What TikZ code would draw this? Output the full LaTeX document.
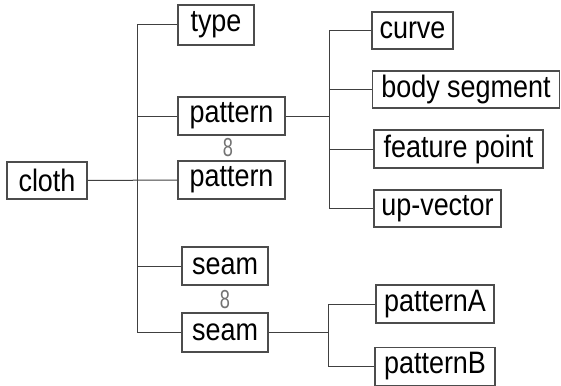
\documentclass[tikz,border=0pt]{standalone}
\usepackage{fontspec}
\setmainfont{Liberation Sans}
\newcommand{\bx}[1]{\scalebox{0.87}[1]{#1}}
\begin{document}
\begin{tikzpicture}[x=1pt,y=-1pt,
  box/.style={draw=black!70,line width=1.1pt,inner sep=0pt,font=\fontsize{31}{31}\selectfont,text=black},
  conn/.style={draw=black!75,line width=1pt},
  link/.style={inner sep=0pt,text=black!55,font=\fontsize{26}{26}\selectfont}]
\useasboundingbox (0,0) rectangle (561,385);
\node[box,minimum width=80pt,minimum height=37pt] (cloth) at (47,180.5) {\bx{cloth}};
\node[box,minimum width=76pt,minimum height=40pt] (type) at (216,25) {\bx{type}};
\node[box,minimum width=107pt,minimum height=38pt] (pat1) at (231.5,116) {\bx{pattern}};
\node[box,minimum width=107pt,minimum height=38pt] (pat2) at (231.5,180) {\bx{pattern}};
\node[box,minimum width=86pt,minimum height=38pt] (seam1) at (225,266) {\bx{seam}};
\node[box,minimum width=86pt,minimum height=39pt] (seam2) at (225,332.5) {\bx{seam}};
\node[box,minimum width=81pt,minimum height=37pt] (curve) at (412.5,30.5) {\bx{curve}};
\node[box,minimum width=187pt,minimum height=37pt] (body) at (466,89.5) {\bx{body segment}};
\node[box,minimum width=169pt,minimum height=38pt] (feat) at (458.5,149) {\bx{feature point}};
\node[box,minimum width=127pt,minimum height=37pt] (upv) at (437.5,208.5) {\bx{up-vector}};
\node[box,minimum width=118pt,minimum height=38pt] (patA) at (435,304) {\bx{patternA}};
\node[box,minimum width=120pt,minimum height=38pt] (patB) at (435,366.5) {\bx{patternB}};
\node[link] (l1) at (228,148) {\scalebox{0.7}[1]{8}};
\node[link] (l2) at (225,300) {\scalebox{0.7}[1]{8}};
% main trunk
\coordinate (t1) at (137,0);
\draw[conn] (type.west) -| (t1 |- seam2.west) -- (seam2.west);
\draw[conn] (pat1.west) -- (t1 |- pat1.west);
\draw[conn] (cloth.east) -- (pat2.west);
\draw[conn] (seam1.west) -- (t1 |- seam1.west);
% pattern trunk
\coordinate (t2) at (329,0);
\draw[conn] (curve.west) -| (t2 |- upv.west) -- (upv.west);
\draw[conn] (pat1.east) -- (t2 |- pat1.east);
\draw[conn] (body.west) -- (t2 |- body.west);
\draw[conn] (feat.west) -- (t2 |- feat.west);
% seam trunk
\coordinate (t3) at (328,0);
\draw[conn] (patA.west) -| (t3 |- patB.west) -- (patB.west);
\draw[conn] (seam2.east) -- (t3 |- seam2.east);
\end{tikzpicture}
\end{document}
